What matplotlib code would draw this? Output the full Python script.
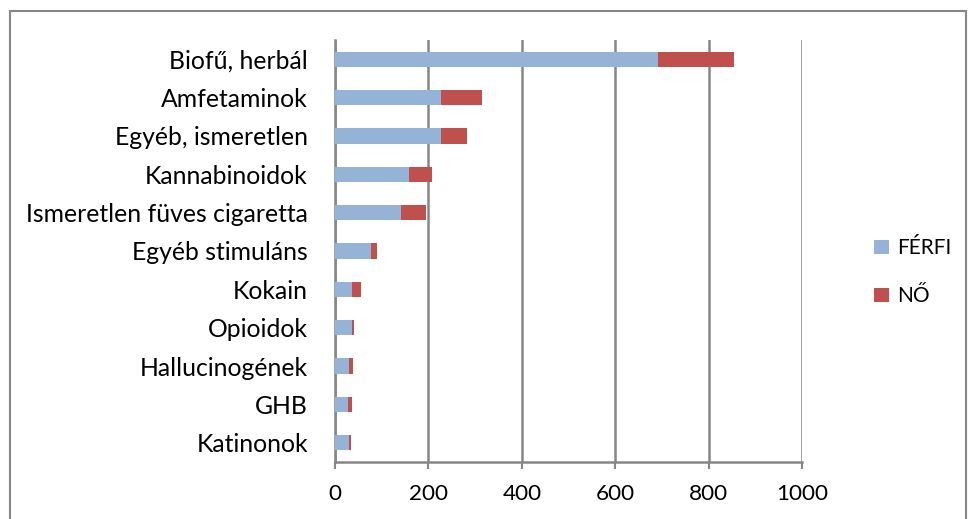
import numpy as np
import matplotlib.pyplot as plt
from matplotlib.patches import Rectangle

# categories top to bottom
categories = ['Biofű, herbál', 'Amfetaminok', 'Egyéb, ismeretlen', 'Kannabinoidok',
              'Ismeretlen füves cigaretta', 'Egyéb stimuláns', 'Kokain', 'Opioidok',
              'Hallucinogének', 'GHB', 'Katinonok']
ferfi = [691, 227, 228, 158, 141, 77, 36, 36, 31, 27, 30]
no_total = [855, 315, 283, 208, 195, 91, 56, 41, 39, 36, 35]
no = [t - f for t, f in zip(no_total, ferfi)]
xticks = [0, 200, 400, 600, 800, 1000]

plt.rcParams['font.family'] = ['Lato', 'DejaVu Sans']

fig = plt.figure(figsize=(9.68, 5.19), dpi=100)
ax = fig.add_axes([335 / 968, 1 - 462 / 519, (802 - 335) / 968, 422 / 519])

y = np.arange(len(categories))
ax.barh(y, ferfi, height=0.4, color='#95B3D7', label='FÉRFI', zorder=3)
ax.barh(y, no, left=ferfi, height=0.4, color='#C0504D', label='NŐ', zorder=3)

ax.set_ylim(len(categories) - 0.5, -0.5)
ax.set_xlim(0, 1000)
ax.set_yticks(y)
ax.set_yticklabels(categories, fontsize=17.8)
ax.set_xticks(xticks)
ax.set_xticklabels([str(v) for v in xticks], fontsize=16.2)
ax.tick_params(axis='y', length=0, pad=19.5)
ax.tick_params(axis='x', length=5, width=1.5, color='#868686', pad=11)
ax.xaxis.grid(True, color='#868686', linewidth=1.8, zorder=0)
for s in ['top', 'right']:
    ax.spines[s].set_visible(False)
for s in ['left', 'bottom']:
    ax.spines[s].set_color('#868686')
    ax.spines[s].set_linewidth(1.8)

leg = fig.legend(loc='upper left', bbox_to_anchor=(866 / 968, 1 - 230 / 519),
                 frameon=False, fontsize=15, handlelength=0.7, handleheight=0.7,
                 handletextpad=0.4, labelspacing=1.35, borderaxespad=0)

# outer chart frame
fig.patches.append(Rectangle((10 / 968, -0.05), 956 / 968, 1.05 - 11 / 519,
                             transform=fig.transFigure, fill=False,
                             edgecolor='#868686', linewidth=1.5))

fig.savefig('out.png', dpi=100)
